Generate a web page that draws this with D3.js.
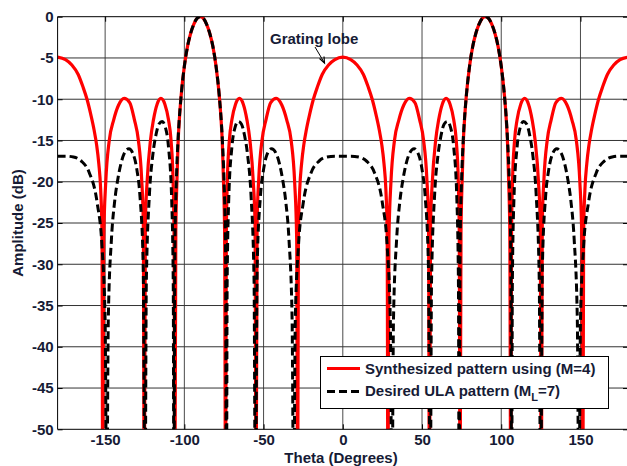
<!DOCTYPE html>
<html lang="en">
<head>
<meta charset="UTF-8">
<title>Array pattern</title>
<script src="https://cdn.jsdelivr.net/npm/d3@7"></script>
<style>
body { margin: 0; background: #fff; }
svg text { font-family: "Liberation Sans", Arial, sans-serif; font-weight: bold; }
</style>
</head>
<body>
<script>
// tick values
var xTicks = [-150, -100, -50, 0, 50, 100, 150];
var yTicks = [0, -5, -10, -15, -20, -25, -30, -35, -40, -45, -50];

// synthesized pattern (M=4)
var synTheta = [-180, -175, -171, -167, -164, -161.3, -159, -157, -155.4, -154, -152.8, -152, -151.5, -150.9, -149.6, -147.4, -144.6, -141.5, -138, -134.5, -131.5, -129, -127, -125.9, -125.3, -124.6, -123.5, -121.4, -119.5, -117.2, -114.8, -112.3, -110, -108.4, -107.1, -106.5, -106, -105.4, -104.7, -104, -103, -102, -100, -98, -96, -94, -92, -90,
  -88, -86, -84, -82, -80, -78, -77, -76, -75.3, -74.6, -74, -73.5, -72.9, -71.6, -70, -67.7, -65.2, -62.8, -60.5, -58.6, -56.5, -55.4, -54.7, -54.1, -53, -51, -48.5, -45.5, -42, -38.5, -35.4, -32.6, -30.4, -29.1, -28.5, -28, -27.2, -26, -24.6, -23, -21, -18.7, -16, -13, -9, -5, 0,
  5, 9, 13, 16, 18.7, 21, 23, 24.6, 26, 27.2, 28, 28.5, 29.1, 30.4, 32.6, 35.4, 38.5, 42, 45.5, 48.5, 51, 53, 54.1, 54.7, 55.4, 56.5, 58.6, 60.5, 62.8, 65.2, 67.7, 70, 71.6, 72.9, 73.5, 74, 74.6, 75.3, 76, 77, 78, 80, 82, 84, 86, 88, 90,
  92, 94, 96, 98, 100, 102, 103, 104, 104.7, 105.4, 106, 106.5, 107.1, 108.4, 110, 112.3, 114.8, 117.2, 119.5, 121.4, 123.5, 124.6, 125.3, 125.9, 127, 129, 131.5, 134.5, 138, 141.5, 144.6, 147.4, 149.6, 150.9, 151.5, 152, 152.8, 154, 155.4, 157, 159, 161.3, 164, 167, 171, 175, 180];
var synDb = [-4.9, -5.2, -5.85, -7.0, -8.5, -10.1, -11.9, -13.7, -15.5, -17.8, -21, -26, -60, -27, -20, -15, -12.5, -10.7, -9.9, -10.4, -12.5, -15, -19.5, -25, -60, -25, -20, -15, -12.5, -10.6, -9.9, -10.6, -12.5, -15, -20, -26, -60, -26, -20, -15.5, -12, -9.5, -6.0, -3.6, -2.0, -0.9, -0.2, 0,
  -0.2, -0.9, -2.0, -3.6, -6.0, -9.5, -12, -15.5, -20, -26, -60, -26, -20, -15, -12.5, -10.6, -9.9, -10.6, -12.5, -15, -20, -25, -60, -25, -19.5, -15, -12.5, -10.4, -9.9, -10.7, -12.5, -15, -20, -27, -60, -26, -21, -17.8, -15.5, -13.7, -11.9, -10.1, -8.5, -7.0, -5.85, -5.2, -4.9,
  -5.2, -5.85, -7.0, -8.5, -10.1, -11.9, -13.7, -15.5, -17.8, -21, -26, -60, -27, -20, -15, -12.5, -10.7, -9.9, -10.4, -12.5, -15, -19.5, -25, -60, -25, -20, -15, -12.5, -10.6, -9.9, -10.6, -12.5, -15, -20, -26, -60, -26, -20, -15.5, -12, -9.5, -6.0, -3.6, -2.0, -0.9, -0.2, 0,
  -0.2, -0.9, -2.0, -3.6, -6.0, -9.5, -12, -15.5, -20, -26, -60, -26, -20, -15, -12.5, -10.6, -9.9, -10.6, -12.5, -15, -20, -25, -60, -25, -19.5, -15, -12.5, -10.4, -9.9, -10.7, -12.5, -15, -20, -27, -60, -26, -21, -17.8, -15.5, -13.7, -11.9, -10.1, -8.5, -7.0, -5.85, -5.2, -4.9];

// desired ULA pattern (ML=7)
var ulaTheta = [-180, -175, -170, -165, -160, -155, -152, -150, -149, -148, -146, -144, -142, -140, -138, -135, -132, -130, -128, -126, -124.8, -124, -122, -120, -118, -116, -114, -112, -110, -108, -107, -106.6, -106, -105, -104, -102, -100, -98, -96, -94, -92, -90,
  -88, -86, -84, -82, -80, -78, -76, -75, -74, -73.4, -73, -72, -70, -68, -66, -64, -62, -60, -58, -56, -55.2, -54, -52, -50, -48, -45, -42, -40, -38, -36, -34, -32, -31, -30, -28, -25, -20, -15, -10, -5, 0,
  5, 10, 15, 20, 25, 28, 30, 31, 32, 34, 36, 38, 40, 42, 45, 48, 50, 52, 54, 55.2, 56, 58, 60, 62, 64, 66, 68, 70, 72, 73, 73.4, 74, 75, 76, 78, 80, 82, 84, 86, 88, 90,
  92, 94, 96, 98, 100, 102, 104, 105, 106, 106.6, 107, 108, 110, 112, 114, 116, 118, 120, 122, 124, 124.8, 126, 128, 130, 132, 135, 138, 140, 142, 144, 146, 148, 149, 150, 152, 155, 160, 165, 170, 175, 180];
var ulaDb = [-16.9, -16.9, -17.0, -17.5, -18.9, -22.6, -27.8, -36.9, -60, -36.6, -26.9, -22.4, -19.7, -17.8, -16.6, -16.0, -16.8, -18.5, -21.8, -29.9, -60, -32.1, -21.4, -16.9, -14.4, -13.0, -12.7, -13.4, -15.8, -22.2, -32.6, -60, -28.5, -19.6, -15.0, -9.5, -6.0, -3.6, -2.0, -0.9, -0.2, 0,
  -0.2, -0.9, -2.0, -3.6, -6.0, -9.5, -15.0, -19.6, -28.5, -60, -32.6, -22.2, -15.8, -13.4, -12.7, -13.0, -14.4, -16.9, -21.4, -32.1, -60, -29.9, -21.8, -18.5, -16.8, -16.0, -16.6, -17.8, -19.7, -22.4, -26.9, -36.6, -60, -36.9, -27.8, -22.6, -18.9, -17.5, -17.0, -16.9, -16.9,
  -16.9, -17.0, -17.5, -18.9, -22.6, -27.8, -36.9, -60, -36.6, -26.9, -22.4, -19.7, -17.8, -16.6, -16.0, -16.8, -18.5, -21.8, -29.9, -60, -32.1, -21.4, -16.9, -14.4, -13.0, -12.7, -13.4, -15.8, -22.2, -32.6, -60, -28.5, -19.6, -15.0, -9.5, -6.0, -3.6, -2.0, -0.9, -0.2, 0,
  -0.2, -0.9, -2.0, -3.6, -6.0, -9.5, -15.0, -19.6, -28.5, -60, -32.6, -22.2, -15.8, -13.4, -12.7, -13.0, -14.4, -16.9, -21.4, -32.1, -60, -29.9, -21.8, -18.5, -16.8, -16.0, -16.6, -17.8, -19.7, -22.4, -26.9, -36.6, -60, -36.9, -27.8, -22.6, -18.9, -17.5, -17.0, -16.9, -16.9];

var w = 627, h = 466;
var plotL = 57.6, plotR = 628, plotT = 16.7, plotB = 429.3;
var labelColor = '#161b35';

var svg = d3.select('body').append('svg')
  .attr('width', w).attr('height', h);

var x = d3.scaleLinear().domain([-180, 180]).range([plotL, plotR]);
var y = d3.scaleLinear().domain([-50, 0]).range([plotB, plotT]);

// grid
svg.append('g').selectAll('line')
  .data(xTicks).enter().append('line')
  .attr('x1', function(d){ return x(d); }).attr('x2', function(d){ return x(d); })
  .attr('y1', plotT).attr('y2', plotB)
  .attr('stroke', '#4a4a4a').attr('stroke-width', 1);
svg.append('g').selectAll('line')
  .data(yTicks.slice(1, -1)).enter().append('line')
  .attr('x1', plotL).attr('x2', plotR)
  .attr('y1', function(d){ return y(d); }).attr('y2', function(d){ return y(d); })
  .attr('stroke', '#333').attr('stroke-width', 1);

// axes, ticks pointing inward like matlab
var xAxis = svg.append('g').attr('transform', 'translate(0,' + plotB + ')')
  .call(d3.axisBottom(x).tickValues(xTicks).tickSize(-5).tickPadding(5)
    .tickFormat(function(d){ return String(d); }));
var yAxis = svg.append('g').attr('transform', 'translate(' + plotL + ',0)')
  .call(d3.axisLeft(y).tickValues(yTicks).tickSize(-5).tickPadding(4)
    .tickFormat(function(d){ return String(d); }));
svg.append('g').attr('transform', 'translate(0,' + plotT + ')')
  .call(d3.axisTop(x).tickValues(xTicks).tickSize(-5).tickFormat(''));
svg.append('g').attr('transform', 'translate(' + plotR + ',0)')
  .call(d3.axisRight(y).tickValues(yTicks).tickSize(-5).tickFormat(''));
svg.selectAll('.domain').remove();
svg.selectAll('.tick line').attr('stroke', '#000');
[xAxis, yAxis].forEach(function(g){
  g.selectAll('text').attr('font-size', 15).attr('fill', labelColor)
    .style('font-family', '"Liberation Sans", Arial, sans-serif').style('font-weight', 'bold');
});

// clip and curves
svg.append('clipPath').attr('id', 'plotclip').append('rect')
  .attr('x', plotL).attr('y', plotT).attr('width', plotR - plotL).attr('height', plotB - plotT);

var line = d3.line()
  .x(function(d){ return x(d[0]); })
  .y(function(d){ return y(d[1]); })
  .curve(d3.curveMonotoneX);

var plot = svg.append('g').attr('clip-path', 'url(#plotclip)');
plot.append('path')
  .attr('d', line(d3.zip(synTheta, synDb)))
  .attr('fill', 'none').attr('stroke', '#ff0000').attr('stroke-width', 3.2);
plot.append('path')
  .attr('d', line(d3.zip(ulaTheta, ulaDb)))
  .attr('fill', 'none').attr('stroke', '#000').attr('stroke-width', 3)
  .attr('stroke-dasharray', '8,4');

// frame
svg.append('path')
  .attr('d', 'M' + plotR + ',' + plotT + 'H' + plotL + 'V' + plotB + 'H' + plotR + 'Z')
  .attr('fill', 'none').attr('stroke', '#000').attr('stroke-width', 1);

// axis titles
svg.append('text').attr('x', 341).attr('y', 462.5).attr('text-anchor', 'middle')
  .attr('font-size', 15).attr('fill', labelColor).text('Theta (Degrees)');
svg.append('text').attr('transform', 'translate(23,223) rotate(-90)')
  .attr('text-anchor', 'middle').attr('font-size', 15).attr('fill', labelColor)
  .text('Amplitude (dB)');

// grating lobe note
svg.append('text').attr('x', 270).attr('y', 43.5).attr('font-size', 15)
  .attr('fill', labelColor).text('Grating lobe');
svg.append('line').attr('x1', 315).attr('y1', 47).attr('x2', 324.5).attr('y2', 63)
  .attr('stroke', '#000').attr('stroke-width', 1);
svg.append('path').attr('d', 'M319.5,58.5 L324.5,63 L324,56.5')
  .attr('fill', 'none').attr('stroke', '#000').attr('stroke-width', 1.2);

// legend
var lg = svg.append('g');
lg.append('rect').attr('x', 320.5).attr('y', 356.5).attr('width', 288).attr('height', 52)
  .attr('fill', '#fff').attr('stroke', '#000').attr('stroke-width', 1);
lg.append('line').attr('x1', 327).attr('x2', 360).attr('y1', 368.5).attr('y2', 368.5)
  .attr('stroke', '#ff0000').attr('stroke-width', 3.2);
lg.append('line').attr('x1', 327).attr('x2', 360).attr('y1', 391.5).attr('y2', 391.5)
  .attr('stroke', '#000').attr('stroke-width', 3).attr('stroke-dasharray', '8,4');
lg.append('text').attr('x', 365).attr('y', 374).attr('font-size', 15).attr('fill', labelColor)
  .text('Synthesized pattern using (M=4)');
var t2 = lg.append('text').attr('x', 365).attr('y', 395.5).attr('font-size', 15).attr('fill', labelColor);
t2.append('tspan').text('Desired ULA pattern (M');
t2.append('tspan').attr('dy', 5).attr('font-size', 11).text('L');
t2.append('tspan').attr('dy', -5).text('=7)');
</script>
</body>
</html>
